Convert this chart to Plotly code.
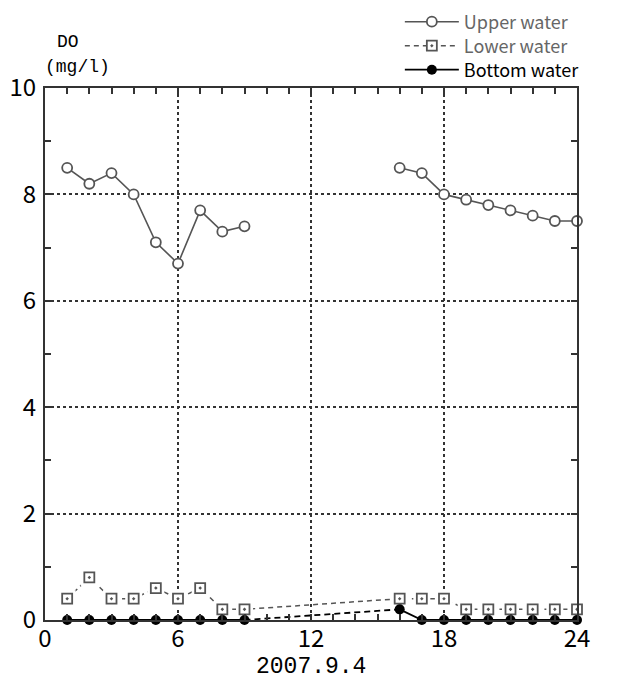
import plotly.graph_objects as go

hours_a = [1, 2, 3, 4, 5, 6, 7, 8, 9]
hours_b = [16, 17, 18, 19, 20, 21, 22, 23, 24]
upper_a = [8.5, 8.2, 8.4, 8.0, 7.1, 6.7, 7.7, 7.3, 7.4]
upper_b = [8.5, 8.4, 8.0, 7.9, 7.8, 7.7, 7.6, 7.5, 7.5]
lower_a = [0.4, 0.8, 0.4, 0.4, 0.6, 0.4, 0.6, 0.2, 0.2]
lower_b = [0.4, 0.4, 0.4, 0.2, 0.2, 0.2, 0.2, 0.2, 0.2]
bottom_a = [0, 0, 0, 0, 0, 0, 0, 0, 0]
bottom_b = [0.2, 0, 0, 0, 0, 0, 0, 0, 0]

x_ticks = [0, 6, 12, 18, 24]
y_ticks = [0, 2, 4, 6, 8, 10]
x_title = "2007.9.4"

GRAY = "#555555"
FONT = "Noto Sans CJK JP"

fig = go.Figure()

# Upper water (gap between the two runs)
ux = hours_a + [None] + hours_b
uy = upper_a + [None] + upper_b
fig.add_trace(go.Scatter(
    x=ux, y=uy, mode="lines+markers", name="Upper water", legend="legend",
    line=dict(color=GRAY, width=1.6),
    marker=dict(symbol="circle", size=10, color="white", line=dict(color=GRAY, width=1.8)),
    connectgaps=False, cliponaxis=False))

# Lower water
lx = hours_a + hours_b
ly = lower_a + lower_b
fig.add_trace(go.Scatter(
    x=lx, y=ly, mode="lines+markers", name="Lower water", legend="legend2",
    line=dict(color=GRAY, width=1.5, dash="5px,4px"),
    marker=dict(symbol="square-dot", size=10, color="white", line=dict(color=GRAY, width=1.8)),
    cliponaxis=False))
fig.add_trace(go.Scatter(
    x=lx, y=ly, mode="markers", showlegend=False, hoverinfo="skip",
    marker=dict(symbol="square", size=17, color="white", line=dict(width=0)),
    cliponaxis=False))
fig.add_trace(go.Scatter(
    x=lx, y=ly, mode="markers", showlegend=False, hoverinfo="skip",
    marker=dict(symbol="square-dot", size=10, color="white", line=dict(color=GRAY, width=1.8)),
    cliponaxis=False))

# Bottom water: solid runs, dashed connection between runs
fig.add_trace(go.Scatter(
    x=[hours_a[-1], hours_b[0]], y=[bottom_a[-1], bottom_b[0]], mode="lines",
    showlegend=False, hoverinfo="skip",
    line=dict(color="black", width=1.8, dash="6px,4px"), cliponaxis=False))
fig.add_trace(go.Scatter(
    x=hours_a + [None] + hours_b, y=bottom_a + [None] + bottom_b,
    mode="lines+markers", name="Bottom water", legend="legend3",
    line=dict(color="black", width=1.8),
    marker=dict(symbol="circle", size=10, color="black"),
    connectgaps=False, cliponaxis=False))

axis_common = dict(
    showline=True, linecolor="#333333", linewidth=2, mirror="ticks",
    ticks="inside", ticklen=6, tickcolor="#333333", tickwidth=1.5,
    showgrid=True, gridcolor="#333333", gridwidth=1.5, griddash="3px,3px",
    zeroline=False, tickfont=dict(family=FONT, size=24, color="black"),
)

fig.update_xaxes(range=[0, 24], tickvals=x_ticks, ticktext=[str(v) for v in x_ticks],
                 minor=dict(dtick=1, tick0=0, ticks="inside", ticklen=6, tickcolor="#333333", showgrid=False),
                 ticklabelstandoff=-4,
                 **axis_common)
fig.update_yaxes(range=[0, 10], tickvals=y_ticks, ticktext=[str(v) for v in y_ticks],
                 minor=dict(dtick=1, tick0=0, ticks="inside", ticklen=6, tickcolor="#333333", showgrid=False),
                 ticklabelstandoff=2,
                 **axis_common)

# Text labels (page px -> paper: x=(px-45)/532, y=(620-py)/532)
fig.add_annotation(text=x_title, xref="paper", yref="paper", x=(311 - 45) / 532, y=(620 - 667) / 532,
                   xanchor="center", yanchor="middle", showarrow=False,
                   font=dict(family="Liberation Mono", size=23, color="black"))
fig.add_annotation(text="DO", xref="paper", yref="paper", x=(68 - 45) / 532, y=(620 - 42) / 532,
                   xanchor="center", yanchor="middle", showarrow=False,
                   font=dict(family="Liberation Mono", size=18, color="black"))
fig.add_annotation(text="(mg/l)", xref="paper", yref="paper", x=(77 - 45) / 532, y=(620 - 67) / 532,
                   xanchor="center", yanchor="middle", showarrow=False,
                   font=dict(family="Liberation Mono", size=18, color="black"))

leg_common = dict(x=0.667, xanchor="left", yanchor="middle", yref="container",
                  bgcolor="rgba(0,0,0,0)", itemwidth=54)

# page has 8px body margin; compensate
fig.update_layout(
    width=615, height=672,
    margin=dict(l=37, r=46, t=80, b=60, autoexpand=False),
    paper_bgcolor="white", plot_bgcolor="white",
    showlegend=True,
    legend=dict(y=1 - 14 / 672, font=dict(family=FONT, size=18, color="#666666"), **leg_common),
    legend2=dict(y=1 - 38 / 672, font=dict(family=FONT, size=18, color="#666666"), **leg_common),
    legend3=dict(y=1 - 62 / 672, font=dict(family=FONT, size=18, color="black"), **leg_common),
)

fig.write_html("out.html")
